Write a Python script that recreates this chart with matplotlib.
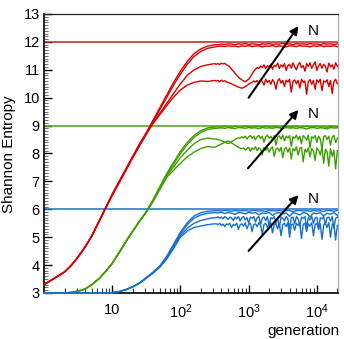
import numpy as np
import matplotlib
matplotlib.use("Agg")
import matplotlib.pyplot as plt
from matplotlib.ticker import FixedLocator, FixedFormatter, LogLocator, NullFormatter, MultipleLocator

plt.rcParams['font.family'] = ['Liberation Sans', 'DejaVu Sans']
plt.rcParams['mathtext.fontset'] = 'custom'
plt.rcParams['mathtext.rm'] = 'Liberation Sans'
plt.rcParams['mathtext.it'] = 'Liberation Sans:italic'

# ---------------- data ----------------
# log10(generation) sampling of the rising part
log_gen_rise = [0.0, 0.1, 0.2, 0.3, 0.4, 0.5, 0.6, 0.7, 0.8, 0.9, 1.0, 1.1, 1.2,
                1.3, 1.4, 1.5, 1.6, 1.7, 1.8, 1.9, 2.0, 2.1, 2.2, 2.3, 2.4, 2.5]
# plateau sampling: coarse (smooth runs) and fine (noisy runs)
log_gen_tail_coarse = [2.55, 2.60, 2.65, 2.70, 2.75, 2.80, 2.85, 2.90, 2.95, 3.00, 3.05, 3.10,
                       3.15, 3.20, 3.25, 3.30, 3.35, 3.40, 3.45, 3.50, 3.55, 3.60, 3.65, 3.70,
                       3.75, 3.80, 3.85, 3.90, 3.95, 4.00, 4.05, 4.10, 4.15, 4.20, 4.25, 4.30]
log_gen_tail_fine = [2.525, 2.55, 2.575, 2.60, 2.625, 2.65, 2.675, 2.70,
                     2.725, 2.75, 2.775, 2.80, 2.825, 2.85, 2.875, 2.90,
                     2.925, 2.95, 2.975, 3.00, 3.025, 3.05, 3.075, 3.10,
                     3.125, 3.15, 3.175, 3.20, 3.225, 3.25, 3.275, 3.30,
                     3.325, 3.35, 3.375, 3.40, 3.425, 3.45, 3.475, 3.50,
                     3.525, 3.55, 3.575, 3.60, 3.625, 3.65, 3.675, 3.70,
                     3.725, 3.75, 3.775, 3.80, 3.825, 3.85, 3.875, 3.90,
                     3.925, 3.95, 3.975, 4.00, 4.025, 4.05, 4.075, 4.10,
                     4.125, 4.15, 4.175, 4.20, 4.225, 4.25, 4.275, 4.30]

# ---- red family (max entropy 12) ----
red_1_rise = [3.30, 3.45, 3.60, 3.76, 4.00, 4.30, 4.65, 5.05, 5.55, 6.05, 6.55, 7.00, 7.45, 7.90, 8.35,
              8.75, 9.20, 9.65, 10.10, 10.55, 10.95, 11.30, 11.58, 11.75, 11.85, 11.90]
red_1_tail = [11.90, 11.92, 11.91, 11.93, 11.92, 11.90, 11.93, 11.92, 11.94, 11.91, 11.93, 11.92,
              11.90, 11.93, 11.92, 11.94, 11.91, 11.93, 11.92, 11.95, 11.91, 11.93, 11.90, 11.94,
              11.92, 11.93, 11.91, 11.94, 11.92, 11.93, 11.90, 11.94, 11.92, 11.93, 11.91, 11.93]
red_2_rise = [3.30, 3.45, 3.60, 3.75, 3.99, 4.29, 4.64, 5.04, 5.53, 6.03, 6.52, 6.97, 7.42, 7.87, 8.32,
              8.72, 9.15, 9.58, 10.02, 10.45, 10.85, 11.20, 11.48, 11.66, 11.77, 11.82]
red_2_tail = [11.84, 11.85, 11.83, 11.86, 11.84, 11.85, 11.82, 11.86, 11.84, 11.87, 11.83, 11.85,
              11.86, 11.82, 11.85, 11.84, 11.87, 11.83, 11.86, 11.84, 11.82, 11.86, 11.85, 11.83,
              11.87, 11.84, 11.85, 11.82, 11.86, 11.84, 11.87, 11.83, 11.85, 11.84, 11.86, 11.83]
red_3_rise = [3.30, 3.45, 3.60, 3.75, 3.99, 4.29, 4.64, 5.04, 5.53, 6.02, 6.50, 6.95, 7.40, 7.85, 8.28,
              8.70, 9.10, 9.45, 9.80, 10.15, 10.50, 10.80, 11.00, 11.12, 11.18, 11.22]
red_3_tail = [11.20, 11.22, 11.19, 11.24, 11.21, 11.23, 11.18, 11.15,
              11.10, 11.02, 10.95, 10.88, 10.80, 10.74, 10.68, 10.64,
              10.60, 10.57, 10.62, 10.66, 10.75, 10.85, 10.95, 11.02,
              11.08, 11.05, 11.14, 11.08, 11.18, 11.04, 11.15, 11.10,
              11.20, 11.02, 11.16, 11.12, 11.24, 11.05, 11.18, 11.10,
              11.22, 10.98, 11.15, 11.20, 11.06, 11.25, 11.10, 11.00,
              11.18, 11.26, 11.08, 11.15, 10.95, 11.22, 11.12, 11.25,
              11.05, 11.18, 11.28, 10.98, 11.15, 11.22, 11.06, 11.20,
              11.12, 10.92, 11.24, 11.10, 11.18, 11.02, 11.25, 11.12]
red_4_rise = [3.30, 3.45, 3.60, 3.75, 3.99, 4.29, 4.64, 5.04, 5.53, 6.02, 6.50, 6.95, 7.40, 7.85, 8.28,
              8.70, 9.08, 9.40, 9.72, 10.02, 10.28, 10.45, 10.55, 10.60, 10.58, 10.62]
red_4_tail = [10.60, 10.62, 10.57, 10.63, 10.58, 10.61, 10.56, 10.55,
              10.52, 10.50, 10.46, 10.44, 10.40, 10.38, 10.36, 10.34,
              10.36, 10.40, 10.44, 10.48, 10.52, 10.55, 10.60, 10.56,
              10.62, 10.50, 10.64, 10.58, 10.45, 10.66, 10.55, 10.62,
              10.48, 10.65, 10.56, 10.30, 10.60, 10.68, 10.52, 10.62,
              10.40, 10.63, 10.56, 10.66, 10.20, 10.58, 10.64, 10.50,
              10.62, 10.35, 10.66, 10.55, 10.60, 10.12, 10.58, 10.65,
              10.48, 10.62, 10.30, 10.64, 10.55, 10.66, 10.25, 10.60,
              10.56, 10.64, 10.40, 10.62, 10.15, 10.58, 10.66, 10.50]

# ---- green family (max entropy 9) ----
green_1_rise = [3.00, 3.00, 3.00, 3.00, 3.02, 3.07, 3.14, 3.30, 3.50, 3.76, 4.07, 4.45, 4.85, 5.22, 5.58,
                5.92, 6.35, 6.82, 7.28, 7.68, 8.08, 8.40, 8.65, 8.82, 8.92, 8.95]
green_1_tail = [8.96, 8.95, 8.97, 8.96, 8.94, 8.97, 8.96, 8.95, 8.97, 8.96, 8.94, 8.97,
                8.96, 8.95, 8.97, 8.96, 8.95, 8.97, 8.94, 8.96, 8.97, 8.95, 8.96, 8.97,
                8.94, 8.96, 8.97, 8.95, 8.96, 8.97, 8.95, 8.96, 8.94, 8.97, 8.96, 8.95]
green_2_rise = [3.00, 3.00, 3.00, 3.00, 3.02, 3.07, 3.14, 3.30, 3.50, 3.76, 4.06, 4.44, 4.84, 5.21, 5.57,
                5.90, 6.32, 6.79, 7.25, 7.62, 8.00, 8.32, 8.58, 8.76, 8.86, 8.90]
green_2_tail = [8.91, 8.92, 8.90, 8.93, 8.91, 8.89, 8.93, 8.92, 8.90, 8.93, 8.91, 8.92,
                8.89, 8.93, 8.91, 8.92, 8.90, 8.93, 8.92, 8.89, 8.93, 8.91, 8.92, 8.90,
                8.93, 8.91, 8.88, 8.92, 8.93, 8.90, 8.92, 8.91, 8.88, 8.93, 8.91, 8.92]
green_3_rise = [3.00, 3.00, 3.00, 3.00, 3.02, 3.07, 3.14, 3.30, 3.50, 3.76, 4.06, 4.44, 4.84, 5.21, 5.57,
                5.90, 6.30, 6.75, 7.20, 7.52, 7.85, 8.12, 8.35, 8.50, 8.55, 8.52]
green_3_tail = [8.52, 8.50, 8.48, 8.46, 8.43, 8.40, 8.38, 8.36,
                8.38, 8.42, 8.46, 8.50, 8.54, 8.56, 8.55, 8.60,
                8.56, 8.62, 8.52, 8.60, 8.64, 8.55, 8.62, 8.50,
                8.60, 8.65, 8.54, 8.62, 8.40, 8.60, 8.66, 8.55,
                8.62, 8.50, 8.64, 8.30, 8.58, 8.63, 8.52, 8.66,
                8.45, 8.62, 8.56, 8.64, 8.25, 8.60, 8.55, 8.66,
                8.50, 8.62, 8.35, 8.64, 8.58, 8.48, 8.66, 8.20,
                8.60, 8.55, 8.64, 8.40, 8.62, 8.52, 8.15, 8.60,
                8.64, 8.50, 8.62, 8.30, 8.58, 8.65, 8.40, 8.55]
green_4_rise = [3.00, 3.00, 3.00, 3.00, 3.02, 3.07, 3.14, 3.30, 3.50, 3.76, 4.06, 4.44, 4.84, 5.21, 5.57,
                5.90, 6.28, 6.72, 7.15, 7.40, 7.65, 7.88, 8.05, 8.18, 8.25, 8.22]
green_4_tail = [8.25, 8.28, 8.31, 8.34, 8.37, 8.40, 8.43, 8.45,
                8.42, 8.38, 8.34, 8.30, 8.26, 8.22, 8.20, 8.17,
                8.20, 8.12, 8.18, 8.22, 8.08, 8.20, 8.15, 8.24,
                8.10, 8.20, 8.16, 7.95, 8.22, 8.12, 8.20, 8.05,
                8.18, 8.24, 7.90, 8.15, 8.20, 8.08, 8.22, 7.85,
                8.16, 8.22, 8.05, 8.20, 7.80, 8.18, 8.10, 8.24,
                7.95, 8.18, 8.22, 7.70, 8.15, 8.05, 8.20, 7.88,
                8.18, 8.10, 7.75, 8.20, 8.12, 7.95, 8.22, 7.65,
                8.15, 8.05, 7.55, 8.18, 7.90, 8.12, 7.45, 8.10]

# ---- blue family (max entropy 6) ----
blue_1_rise = [3.00, 3.00, 3.00, 3.00, 3.00, 3.00, 3.00, 3.00, 3.00, 3.00, 3.01, 3.05, 3.12, 3.22, 3.36,
               3.55, 3.75, 3.98, 4.32, 4.75, 5.18, 5.52, 5.76, 5.88, 5.93, 5.95]
blue_1_tail = [5.95, 5.94, 5.96, 5.95, 5.93, 5.96, 5.94, 5.95, 5.96, 5.93, 5.95, 5.96,
               5.94, 5.95, 5.92, 5.96, 5.95, 5.94, 5.96, 5.93, 5.95, 5.96, 5.92, 5.95,
               5.96, 5.94, 5.95, 5.93, 5.96, 5.94, 5.95, 5.92, 5.96, 5.95, 5.93, 5.96]
blue_2_rise = [3.00, 3.00, 3.00, 3.00, 3.00, 3.00, 3.00, 3.00, 3.00, 3.00, 3.01, 3.05, 3.12, 3.22, 3.36,
               3.55, 3.74, 3.96, 4.28, 4.70, 5.12, 5.45, 5.68, 5.80, 5.86, 5.88]
blue_2_tail = [5.87, 5.89, 5.85, 5.88, 5.86, 5.82, 5.88, 5.87, 5.84, 5.89, 5.86, 5.88,
               5.80, 5.87, 5.85, 5.89, 5.78, 5.86, 5.88, 5.83, 5.87, 5.75, 5.88, 5.85,
               5.80, 5.88, 5.86, 5.72, 5.87, 5.84, 5.88, 5.76, 5.86, 5.82, 5.88, 5.78]
blue_3_rise = [3.00, 3.00, 3.00, 3.00, 3.00, 3.00, 3.00, 3.00, 3.00, 3.00, 3.01, 3.05, 3.12, 3.22, 3.35,
               3.53, 3.72, 3.94, 4.25, 4.64, 5.05, 5.32, 5.50, 5.60, 5.66, 5.70]
blue_3_tail = [5.70, 5.73, 5.68, 5.72, 5.66, 5.74, 5.70, 5.64,
               5.72, 5.68, 5.60, 5.72, 5.66, 5.74, 5.58, 5.70,
               5.74, 5.62, 5.70, 5.50, 5.72, 5.68, 5.74, 5.55,
               5.70, 5.74, 5.45, 5.68, 5.72, 5.60, 5.74, 5.40,
               5.70, 5.66, 5.74, 5.52, 5.70, 5.35, 5.72, 5.68,
               5.58, 5.74, 5.66, 5.30, 5.70, 5.72, 5.48, 5.74,
               5.66, 5.40, 5.72, 5.68, 5.74, 5.35, 5.70, 5.62,
               5.74, 5.50, 5.68, 5.72, 5.28, 5.70, 5.66, 5.74,
               5.45, 5.70, 5.72, 5.58, 5.74, 5.32, 5.68, 5.72]
blue_4_rise = [3.00, 3.00, 3.00, 3.00, 3.00, 3.00, 3.00, 3.00, 3.00, 3.00, 3.01, 3.05, 3.12, 3.22, 3.35,
               3.53, 3.72, 3.93, 4.22, 4.60, 5.00, 5.22, 5.35, 5.40, 5.45, 5.48]
blue_4_tail = [5.48, 5.45, 5.50, 5.42, 5.47, 5.38, 5.48, 5.44,
               5.50, 5.35, 5.46, 5.42, 5.50, 5.28, 5.45, 5.48,
               5.40, 5.52, 5.30, 5.46, 5.50, 5.20, 5.45, 5.48,
               5.38, 5.52, 5.44, 5.10, 5.46, 5.50, 5.35, 5.48,
               5.52, 5.15, 5.44, 5.50, 5.30, 5.48, 5.05, 5.45,
               5.50, 5.38, 5.52, 5.00, 5.44, 5.48, 5.25, 5.50,
               5.42, 5.52, 4.95, 5.46, 5.50, 5.20, 5.48, 5.40,
               5.52, 5.05, 5.45, 5.50, 5.30, 5.48, 4.92, 5.44,
               5.50, 5.35, 5.52, 5.00, 5.46, 5.48, 4.90, 5.42]

max_entropy = [12, 9, 6]
x_tick_values = [10, 100, 1000, 10000]
x_tick_labels = ['10', r'$\mathregular{10^{2}}$', r'$\mathregular{10^{3}}$', r'$\mathregular{10^{4}}$']
y_tick_values = [3, 4, 5, 6, 7, 8, 9, 10, 11, 12, 13]

# arrow start / end (log10 generation, entropy) and label positions
arrow_start = [(3.00, 10.0), (2.99, 7.47), (3.00, 4.51)]
arrow_end = [(3.73, 12.57), (3.73, 9.56), (3.73, 6.51)]
label_pos = [(3.87, 12.40), (3.87, 9.43), (3.87, 6.37)]

# ---------------- plot ----------------
fig = plt.figure(figsize=(3.44, 3.39), dpi=100)
ax = fig.add_axes([44/344, 1 - 293/339, 294/344, 279/339])

ref_colors = ['#c8302c', '#5aab2a', '#2f7cc8']
curve_colors = ['#d80000', '#3d9f00', '#1670d0']
families = [
    [(red_1_rise, log_gen_tail_coarse, red_1_tail), (red_2_rise, log_gen_tail_coarse, red_2_tail),
     (red_3_rise, log_gen_tail_fine, red_3_tail), (red_4_rise, log_gen_tail_fine, red_4_tail)],
    [(green_1_rise, log_gen_tail_coarse, green_1_tail), (green_2_rise, log_gen_tail_coarse, green_2_tail),
     (green_3_rise, log_gen_tail_fine, green_3_tail), (green_4_rise, log_gen_tail_fine, green_4_tail)],
    [(blue_1_rise, log_gen_tail_coarse, blue_1_tail), (blue_2_rise, log_gen_tail_coarse, blue_2_tail),
     (blue_3_rise, log_gen_tail_fine, blue_3_tail), (blue_4_rise, log_gen_tail_fine, blue_4_tail)],
]

for h, c in zip(max_entropy, ref_colors):
    ax.axhline(h, color=c, lw=1.2, zorder=2)

for fam, c in zip(families, curve_colors):
    for rise, tail_x, tail_y in fam:
        lx = np.array(log_gen_rise + tail_x)
        yy = rise + tail_y
        ax.plot(10 ** lx, yy, color=c, lw=1.0, zorder=3, clip_on=False)

for (s, e, l) in zip(arrow_start, arrow_end, label_pos):
    ax.annotate('', xy=(10 ** e[0], e[1]), xytext=(10 ** s[0], s[1]),
                arrowprops=dict(arrowstyle='-|>', color='black', lw=1.5,
                                mutation_scale=12, shrinkA=0, shrinkB=0), zorder=5)
    ax.text(10 ** l[0], l[1], 'N', fontsize=11, ha='left', va='center', zorder=5)

ax.set_xscale('log')
ax.set_xlim(1, 10 ** 4.31)
ax.set_ylim(3, 13)

ax.xaxis.set_major_locator(FixedLocator(x_tick_values))
ax.xaxis.set_major_formatter(FixedFormatter(x_tick_labels))
ax.xaxis.set_minor_locator(LogLocator(base=10, subs=np.arange(2, 10), numticks=20))
ax.xaxis.set_minor_formatter(NullFormatter())
ax.yaxis.set_major_locator(FixedLocator(y_tick_values))
ax.yaxis.set_minor_locator(MultipleLocator(0.1))

ax.tick_params(which='both', direction='in', top=False, right=False, labelsize=10.5)
ax.tick_params(axis='y', which='major', length=6, width=1, pad=3)
ax.tick_params(axis='y', which='minor', length=3, width=0.6, color='#555555')
ax.tick_params(axis='x', which='major', length=6, width=1, pad=7)
ax.tick_params(axis='x', which='minor', length=3.5, width=0.8, color='#333333')

for sp in ['left', 'bottom']:
    ax.spines[sp].set_linewidth(1.2)
    ax.spines[sp].set_color('black')
ax.spines['top'].set_linewidth(0.9)
ax.spines['top'].set_color('#222222')
ax.spines['right'].set_linewidth(0.9)
ax.spines['right'].set_color('#aaaaaa')

fig.text(9/344, 1 - 154/339, 'Shannon Entropy', rotation=90, ha='center', va='center', fontsize=11)
fig.text(339/344, 4.5/339, 'generation', ha='right', va='baseline', fontsize=11)

fig.savefig('out.png', dpi=100)
